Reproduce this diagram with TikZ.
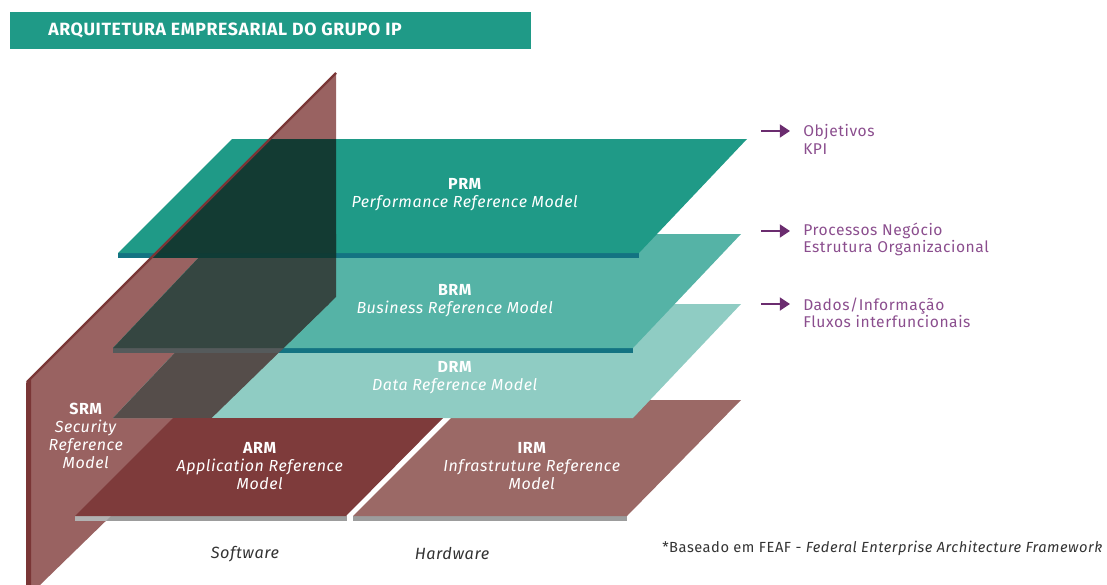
\documentclass[tikz,border=0pt]{standalone}
\usepackage{fontspec}
\setmainfont{Fira Sans}[LetterSpace=3.5]
\usepackage{tikz}
\usetikzlibrary{arrows.meta,positioning,calc}

\definecolor{tealA}{HTML}{1F9A87}
\definecolor{tealB}{HTML}{55B3A6}
\definecolor{tealC}{HTML}{8FCCC3}
\definecolor{stripT}{HTML}{137382}
\definecolor{darkA}{HTML}{133B33}
\definecolor{darkB}{HTML}{354641}
\definecolor{darkC}{HTML}{554D4A}
\definecolor{darkS}{HTML}{0F3C36}
\definecolor{greyS}{HTML}{555A5B}
\definecolor{roseS}{HTML}{996261}
\definecolor{edgeS}{HTML}{7A3636}
\definecolor{redA}{HTML}{7E3B3B}
\definecolor{redI}{HTML}{9B6966}
\definecolor{stripG}{HTML}{9C9C9C}
\definecolor{purpA}{HTML}{6B2C6F}
\definecolor{purpT}{HTML}{8B4E8E}

\begin{document}
\begin{tikzpicture}[
  x=0.75pt, y=-0.75pt,
  lbl/.style={text=white, align=center, inner sep=0pt,
    font=\fontsize{12}{13.3}\selectfont},
  side/.style={text=purpT, align=left, anchor=west, inner sep=0pt,
    font=\fontsize{11.7}{12.9}\selectfont},
  btm/.style={text=black!80, inner sep=0pt,
    font=\fontsize{12.2}{13}\selectfont\itshape},
  arr/.style={-{Triangle[length=2.7mm, width=3.4mm]}, line width=2pt, draw=purpA}
]
\useasboundingbox (0,0) rectangle (1107,585);

\def\srmpath{(26,383) -- (336,73) -- (336,297) -- (40,585) -- (26,585) -- cycle}
\def\prmpath{(118,253) -- (639,253) -- (747,139) -- (232,139) -- cycle}
\def\brmpath{(113,348) -- (633,348) -- (741,234) -- (221,234) -- cycle}
\def\drmpath{(113,418) -- (633,418) -- (741,304) -- (221,304) -- cycle}

% title
\fill[tealA] (10,12) rectangle (531,49);
\node[anchor=west, text=white, inner sep=0pt,
  font=\bfseries\fontsize{13.3}{15}\selectfont] (title) at (48,31)
  {ARQUITETURA EMPRESARIAL DO GRUPO IP};

% SRM plane behind the layers
\fill[roseS] \srmpath;

% IRM
\fill[stripG] (353,516) rectangle (627,521);
\fill[redI] (353,516) -- (627,516) -- (741,400) -- (469,400) -- cycle;

% DRM, BRM, PRM
\fill[tealC] \drmpath;
\fill[stripT] (113,348) rectangle (633,353);
\fill[tealB] \brmpath;
\fill[stripT] (118,253) rectangle (639,258);
\fill[tealA] \prmpath;

\begin{scope}
  \clip \srmpath;
  \fill[darkC] \drmpath;
  \fill[greyS] (113,348) rectangle (633,353);
  \fill[darkB] \brmpath;
  \fill[darkS] (118,253) rectangle (639,258);
  \fill[darkA] \prmpath;
\end{scope}

\fill[edgeS] (26,383) -- (31,378) -- (31,585) -- (26,585) -- cycle;
\draw[edgeS, line width=1.8pt] (27,382) -- (336,73);

% ARM
\fill[stripG] (75,516) rectangle (347,521);
\begin{scope}
  \clip \srmpath;
  \fill[black!30] (75,516) rectangle (347,521);
\end{scope}
\fill[redA] (75,516) -- (346,516) -- (443,418) -- (173,418) -- cycle;

\node[lbl] (prm) at (465,194.5) {\textbf{PRM}\\\textit{Performance Reference Model}};
\node[lbl] (brm) at (455,300.5) {\textbf{BRM}\\\textit{Business Reference Model}};
\node[lbl] (drm) at (455,377.5) {\textbf{DRM}\\\textit{Data Reference Model}};
\node[lbl] (arm) at (260,466) {\textbf{ARM}\\\textit{Application Reference}\\\textit{Model}};
\node[lbl] (irm) at (532,466) {\textbf{IRM}\\\textit{Infrastruture Reference}\\\textit{Model}};
\node[lbl] (srm) at (86,436) {\textbf{SRM}\\\textit{Security}\\\textit{Reference}\\\textit{Model}};

% right side notes
\coordinate (a1s) at (761,131);
\coordinate (a1e) at (790,131);
\coordinate (a2s) at (761,231);
\coordinate (a2e) at (790,231);
\coordinate (a3s) at (761,304);
\coordinate (a3e) at (790,304);
\draw[arr] (a1s) -- (a1e);
\draw[arr] (a2s) -- (a2e);
\draw[arr] (a3s) -- (a3e);
\node[side] (obj) at (803,139.5) {Objetivos\\KPI};
\node[side] (proc) at (803,239.5) {Processos Negócio\\Estrutura Organizacional};
\node[side] (dados) at (803,313) {Dados/Informação\\Fluxos interfuncionais};

\node[btm] (sw) at (245,554) {Software};
\node[btm] (hw) at (452,554) {Hardware};
\node[anchor=west, inner sep=0pt, text=black!80,
  font=\fontsize{11}{12}\selectfont] (note) at (662,548)
  {*Baseado em FEAF - \textit{Federal Enterprise Architecture Framework}};

\end{tikzpicture}
\end{document}
